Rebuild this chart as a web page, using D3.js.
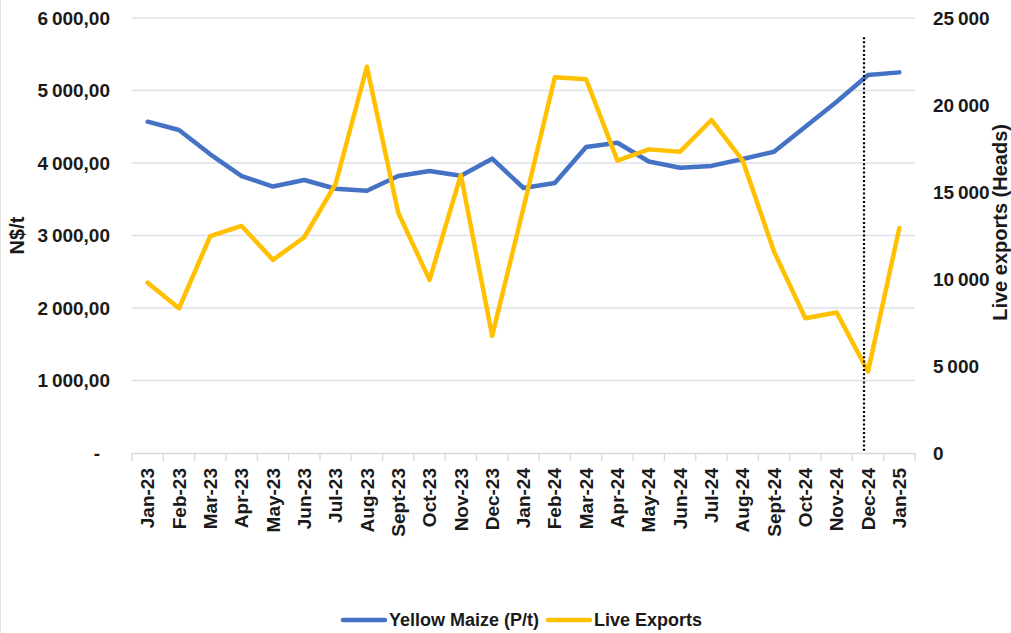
<!DOCTYPE html>
<meta charset="utf-8">
<html>
<head>
<script src="https://d3js.org/d3.v7.min.js"></script>
<style>
  body { margin: 0; background: #fff; }
  text { font-family: "Liberation Sans", Arial, sans-serif; fill: #1a1a1a; }
</style>
</head>
<body>
<script>
// data
var months = ["Jan-23","Feb-23","Mar-23","Apr-23","May-23","Jun-23","Jul-23","Aug-23","Sept-23","Oct-23","Nov-23","Dec-23",
              "Jan-24","Feb-24","Mar-24","Apr-24","May-24","Jun-24","Jul-24","Aug-24","Sept-24","Oct-24","Nov-24","Dec-24","Jan-25"];
var maize = [4570,4455,4120,3820,3675,3766,3645,3618,3820,3890,3825,4060,
             3655,3724,4220,4280,4020,3935,3960,4055,4156,4500,4846,5214,5250];
var exportsHeads = [9790,8320,12470,13050,11100,12400,15460,22200,13810,9950,15980,6730,
                    14100,21600,21480,16800,17450,17320,19140,16800,11570,7740,8070,4680,12930];
var leftTicks = [0,1000,2000,3000,4000,5000,6000];
var rightTicks = [0,5000,10000,15000,20000,25000];
var markerMonth = "Dec-24";

var W = 1011, H = 633;
var margin = {top: 18, right: 96, bottom: 180, left: 132},
    width = W - margin.left - margin.right,
    height = H - margin.top - margin.bottom;

var svg = d3.select("body").append("svg")
    .attr("width", W)
    .attr("height", H);

svg.append("rect")
    .attr("x", 0.5).attr("y", -2)
    .attr("width", W + 2).attr("height", H + 4)
    .attr("fill", "none").attr("stroke", "#e3e3e3");

var g = svg.append("g")
    .attr("transform", "translate(" + margin.left + "," + margin.top + ")");

var x = d3.scaleBand().domain(months).range([0, width]),
    yL = d3.scaleLinear().domain([0, 6000]).range([height, 0]),
    yR = d3.scaleLinear().domain([0, 25000]).range([height, 0]);

var cx = function(m) { return x(m) + x.bandwidth() / 2; };

// gridlines
g.selectAll(".grid")
    .data(leftTicks.slice(1))
    .enter().append("line")
    .attr("x1", 0).attr("x2", width)
    .attr("y1", function(d){ return yL(d); })
    .attr("y2", function(d){ return yL(d); })
    .attr("stroke", "#dde1e8").attr("stroke-width", 1.3);

// left axis
var fmtL = function(d) {
    if (d === 0) return "-";
    return d3.format(",")(d).replace(",", "\u2009") + ",00";
};
var axL = g.append("g")
    .call(d3.axisLeft(yL).tickValues(leftTicks).tickFormat(fmtL).tickSize(0).tickPadding(22));
axL.select(".domain").remove();
axL.selectAll("text")
    .attr("font-size", 19).attr("font-weight", "bold")
    .attr("dx", function(d){ return d === 0 ? -10 : 0; });

// right axis
var axR = g.append("g")
    .attr("transform", "translate(" + width + ",0)")
    .call(d3.axisRight(yR).tickValues(rightTicks)
        .tickFormat(function(d){ return d === 0 ? "0" : d3.format(",")(d).replace(",", "\u2009"); })
        .tickSize(0).tickPadding(18));
axR.select(".domain").remove();
axR.selectAll("text").attr("font-size", 19).attr("font-weight", "bold");

// bottom axis
var axB = g.append("g")
    .attr("transform", "translate(0," + height + ")")
    .call(d3.axisBottom(x).tickSize(0));
axB.select(".domain").attr("stroke", "#d9d9d9").attr("stroke-width", 1.3);
axB.selectAll("text")
    .attr("font-size", 19).attr("font-weight", "bold")
    .attr("transform", "rotate(-90)")
    .attr("text-anchor", "end")
    .attr("x", -15).attr("y", 0).attr("dy", "0.35em");
// Excel-style ticks between categories
g.append("g").selectAll("line")
    .data(months.concat(["_end"]))
    .enter().append("line")
    .attr("x1", function(d, i){ return i * x.step(); })
    .attr("x2", function(d, i){ return i * x.step(); })
    .attr("y1", height).attr("y2", height + 8)
    .attr("stroke", "#d9d9d9").attr("stroke-width", 1.3);

// axis titles
svg.append("text")
    .attr("transform", "translate(24," + (margin.top + height * 0.5) + ") rotate(-90)")
    .attr("text-anchor", "middle")
    .attr("font-size", 20).attr("font-weight", "bold")
    .text("N$/t");
svg.append("text")
    .attr("transform", "translate(1007," + (margin.top + height * 0.47) + ") rotate(-90)")
    .attr("text-anchor", "middle")
    .attr("font-size", 20).attr("font-weight", "bold")
    .text("Live exports (Heads)");

// lines
var lineL = d3.line()
    .x(function(d, i){ return cx(months[i]); })
    .y(function(d){ return yL(d); });
var lineR = d3.line()
    .x(function(d, i){ return cx(months[i]); })
    .y(function(d){ return yR(d); });

g.append("path").datum(maize)
    .attr("d", lineL)
    .attr("fill", "none").attr("stroke", "#4472C4")
    .attr("stroke-width", 4.5).attr("stroke-linecap", "round").attr("stroke-linejoin", "round");

g.append("path").datum(exportsHeads)
    .attr("d", lineR)
    .attr("fill", "none").attr("stroke", "#FFC000")
    .attr("stroke-width", 4.5).attr("stroke-linecap", "round").attr("stroke-linejoin", "round");

// dotted marker line
g.append("line")
    .attr("x1", cx(markerMonth) - 4).attr("x2", cx(markerMonth) - 4)
    .attr("y1", yR(23900)).attr("y2", height)
    .attr("stroke", "#000").attr("stroke-width", 2.2)
    .attr("stroke-dasharray", "2,2.2");

// legend
var legend = svg.append("g").attr("transform", "translate(0,620)");
var items = [{name: "Yellow Maize (P/t)", color: "#4472C4", x: 343},
             {name: "Live Exports", color: "#FFC000", x: 548}];
var li = legend.selectAll("g").data(items).enter().append("g")
    .attr("transform", function(d){ return "translate(" + d.x + ",0)"; });
li.append("line")
    .attr("x1", 0).attr("x2", 42).attr("y1", 0).attr("y2", 0)
    .attr("stroke", function(d){ return d.color; })
    .attr("stroke-width", 4.5).attr("stroke-linecap", "round");
li.append("text")
    .attr("x", 46).attr("dy", "0.35em")
    .attr("font-size", 18).attr("font-weight", "bold")
    .text(function(d){ return d.name; });
</script>
</body>
</html>
